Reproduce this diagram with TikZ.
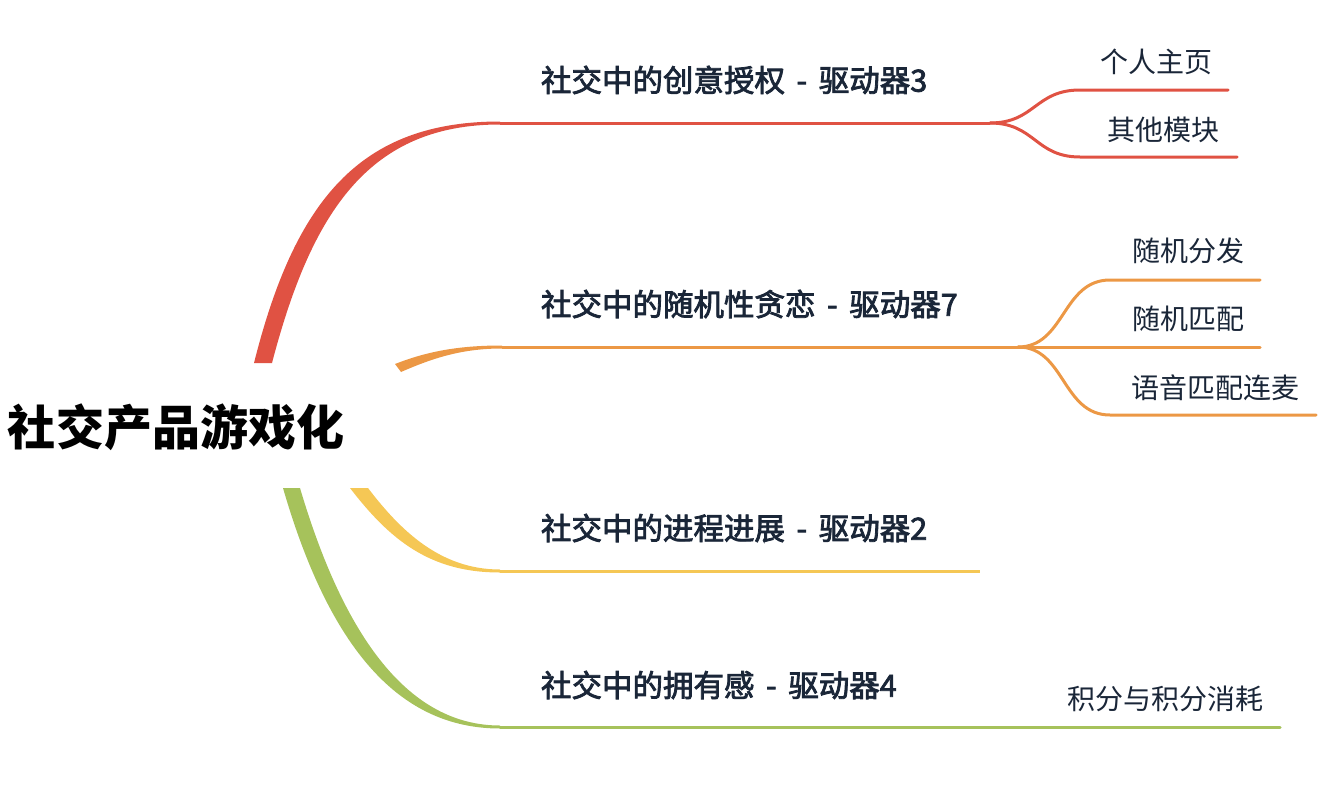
\documentclass[tikz,border=0pt]{standalone}
\usepackage{fontspec}
\setmainfont{Noto Sans CJK SC}
\newfontfamily\topicfont[FakeBold=2.6, WordSpace=1.7]{Noto Sans CJK SC}
\usepackage{tikz}
\usetikzlibrary{positioning}

\definecolor{redline}{HTML}{E05243}
\definecolor{orangeline}{HTML}{EC9845}
\definecolor{yellowline}{HTML}{F5C755}
\definecolor{greenline}{HTML}{A6C25B}
\definecolor{inktext}{HTML}{1A2638}

\begin{document}
\begin{tikzpicture}[
    x=1pt, y=-1pt,
    every node/.style={inner sep=0pt, outer sep=0pt},
    rootlabel/.style={
        font=\fontsize{48}{50}\selectfont\bfseries,
        text=black,
        anchor=west
    },
    topic/.style={
        font=\topicfont\fontsize{30.5}{34}\selectfont,
        text=inktext,
        anchor=west
    },
    leaf/.style={
        font=\fontsize{28}{32}\selectfont,
        text=inktext
    },
    limb/.style={
        line width=3pt,
        line cap=round
    }
]
\useasboundingbox (0,0) rectangle (1340,784);

% root and main topics
\node[rootlabel] (root) at (8,427) {社交产品游戏化};

\node[topic] (drv3) at (541,80) {社交中的创意授权 - 驱动器3};
\node[topic] (drv7) at (541,304) {社交中的随机性贪恋 - 驱动器7};
\node[topic] (drv2) at (541,528) {社交中的进程进展 - 驱动器2};
\node[topic] (drv4) at (541,685) {社交中的拥有感 - 驱动器4};

% leaves
\node[leaf] (home) at (1156,62) {个人主页};
\node[leaf] (other) at (1163,130) {其他模块};
\node[leaf] (spread) at (1188,251) {随机分发};
\node[leaf] (match) at (1188,319) {随机匹配};
\node[leaf] (voice) at (1215,388) {语音匹配连麦};
\node[leaf] (points) at (1165,699) {积分与积分消耗};

% joints
\coordinate (redA) at (254,363);
\coordinate (redB) at (272,363);
\coordinate (redE) at (500,123);
\coordinate (redS) at (990,123);
\coordinate (orangeA) at (395,364);
\coordinate (orangeB) at (401,372);
\coordinate (orangeE) at (502,347);
\coordinate (orangeS) at (1018,347);
\coordinate (yellowA) at (350,488);
\coordinate (yellowB) at (368,488);
\coordinate (yellowE) at (500,571);
\coordinate (yellowS) at (980,571);
\coordinate (greenA) at (283,488);
\coordinate (greenB) at (300,488);
\coordinate (greenE) at (500,727);
\coordinate (greenS) at (1050,727);

% tapered limbs from the root
\fill[redline] (redA) .. controls (295,200) and (360,121.5) .. ([yshift=1.5pt]redE)
    -- ([yshift=-1.5pt]redE) .. controls (370,124.5) and (312,210) .. (redB) -- cycle;
\fill[orangeline] (orangeA) .. controls (428,351) and (460,345.5) .. ([yshift=1.5pt]orangeE)
    -- ([yshift=-1.5pt]orangeE) .. controls (462,348.5) and (433,358) .. (orangeB) -- cycle;
\fill[yellowline] (yellowA) .. controls (390,540) and (430,572.5) .. ([yshift=-1.5pt]yellowE)
    -- ([yshift=1.5pt]yellowE) .. controls (440,569.5) and (400,530) .. (yellowB) -- cycle;
\fill[greenline] (greenA) .. controls (330,650) and (400,728.5) .. ([yshift=-1.5pt]greenE)
    -- ([yshift=1.5pt]greenE) .. controls (410,725.5) and (345,640) .. (greenB) -- cycle;

% topic lines
\draw[limb, redline, line cap=butt] (redE) -- (redS);
\draw[limb, orangeline, line cap=butt] (orangeE) -- (orangeS);
\draw[limb, yellowline, line cap=butt] (yellowE) -- (yellowS);
\draw[limb, greenline, line cap=butt] (greenE) -- (greenS);

% leaf lines
\draw[limb, redline] (redS) .. controls (1035,123) and (1035,90) .. (1080,90) -- (1228,90);
\draw[limb, redline] (redS) .. controls (1035,123) and (1035,157) .. (1080,157) -- (1237,157);
\draw[limb, orangeline] (orangeS) .. controls (1065,347) and (1062,280) .. (1110,280) -- (1260,280);
\draw[limb, orangeline] (orangeS) -- (1260,347);
\draw[limb, orangeline] (orangeS) .. controls (1065,347) and (1062,415) .. (1110,415) -- (1316,415);
\draw[limb, greenline] (greenS) -- (1280,727);

\end{tikzpicture}
\end{document}
